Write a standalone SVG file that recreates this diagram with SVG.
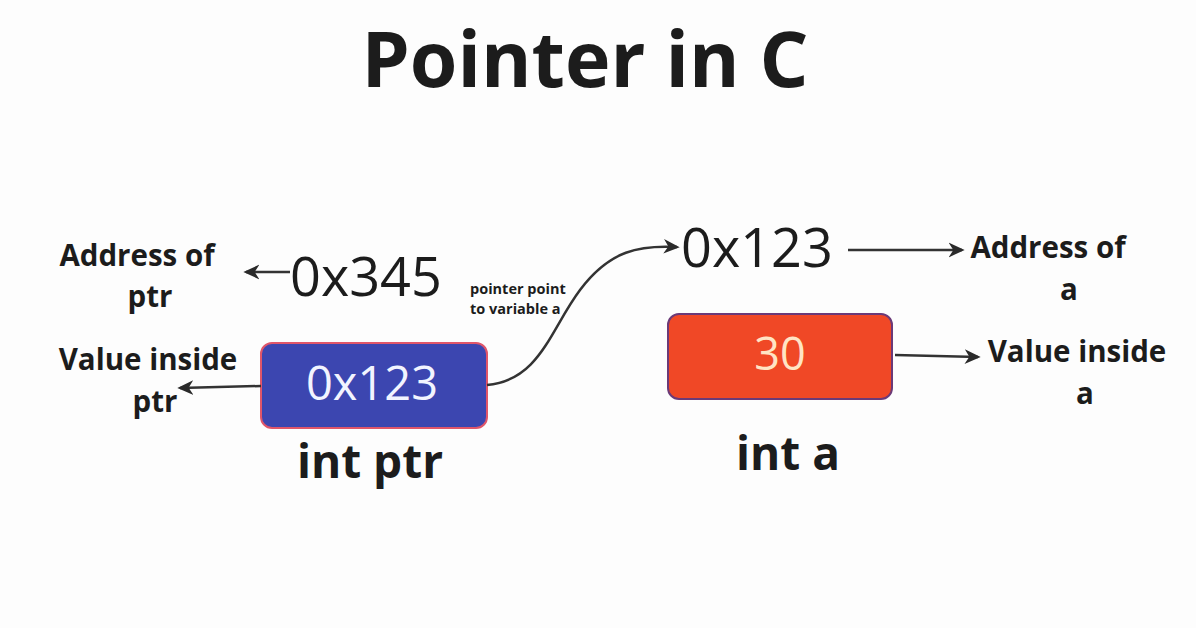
<svg xmlns="http://www.w3.org/2000/svg" width="1196" height="628" viewBox="0 0 1196 628">
<style>
.t{font-family:"Open Sans","Noto Sans","Liberation Sans",sans-serif;fill:#1c1c1c}
.b{font-weight:700}
.lbl{font-size:29.5px;font-weight:700;text-anchor:middle}
.addr{font-size:54px;font-weight:400}
.ln{fill:none;stroke:#333;stroke-width:2.5}
</style>
<defs>
<marker id="ah" viewBox="0 0 12 12" refX="10" refY="6" markerWidth="16" markerHeight="16" orient="auto-start-reverse" markerUnits="userSpaceOnUse">
<path d="M0,0.5 L12,6 L0,11.5 L3.5,6 Z" fill="#2a2a2a"/>
</marker>
</defs>
<rect width="1196" height="628" fill="#fdfdfd"/>
<g id="title"><text class="t b" x="585" y="87" font-size="77" text-anchor="middle">Pointer in C</text></g>

<g id="addr-ptr-label"><text class="t lbl" x="137" y="266">Address of</text><text class="t lbl" x="150" y="307">ptr</text></g>
<g id="addr-ptr"><text class="t addr" x="290" y="296">0x345</text></g>
<g id="value-ptr-label"><text class="t lbl" x="148" y="370">Value inside</text><text class="t lbl" x="155" y="412">ptr</text></g>
<g id="ptr-box"><rect x="261" y="343" width="226" height="85" rx="11" fill="#3c46b0" stroke="#e0566a" stroke-width="2"/><text x="372" y="400" font-size="47" text-anchor="middle" font-family="Open Sans, sans-serif" fill="#f2f4ff">0x123</text></g>
<g id="ptr-name"><text class="t b" x="370" y="478" font-size="46" text-anchor="middle">int ptr</text></g>
<g id="note"><text class="t b" x="470" y="294" font-size="14.5">pointer point</text><text class="t b" x="470" y="314" font-size="14.5">to variable a</text></g>

<g id="addr-a"><text class="t addr" x="681" y="267">0x123</text></g>
<g id="addr-a-label"><text class="t lbl" x="1048" y="258">Address of</text><text class="t lbl" x="1069" y="300">a</text></g>
<g id="a-box"><rect x="668" y="314" width="224" height="85" rx="11" fill="#f04826" stroke="#6b3a78" stroke-width="2"/><text x="780" y="370" font-size="45" text-anchor="middle" font-family="Open Sans, sans-serif" fill="#ffe4c4">30</text></g>
<g id="value-a-label"><text class="t lbl" x="1077" y="362">Value inside</text><text class="t lbl" x="1085" y="404">a</text></g>
<g id="a-name"><text class="t b" x="788" y="470" font-size="46" text-anchor="middle">int a</text></g>

<g id="connectors">
<path class="ln" d="M290,272 L246,272" marker-end="url(#ah)"/>
<path class="ln" d="M261,386 L180,388" marker-end="url(#ah)"/>
<path class="ln" d="M487,385 C540,380 550,330 580,290 C610,250 640,245 677,247" marker-end="url(#ah)"/>
<path class="ln" d="M848,250 L962,250" marker-end="url(#ah)"/>
<path class="ln" d="M895,355 L978,357" marker-end="url(#ah)"/>
</g>
</svg>
